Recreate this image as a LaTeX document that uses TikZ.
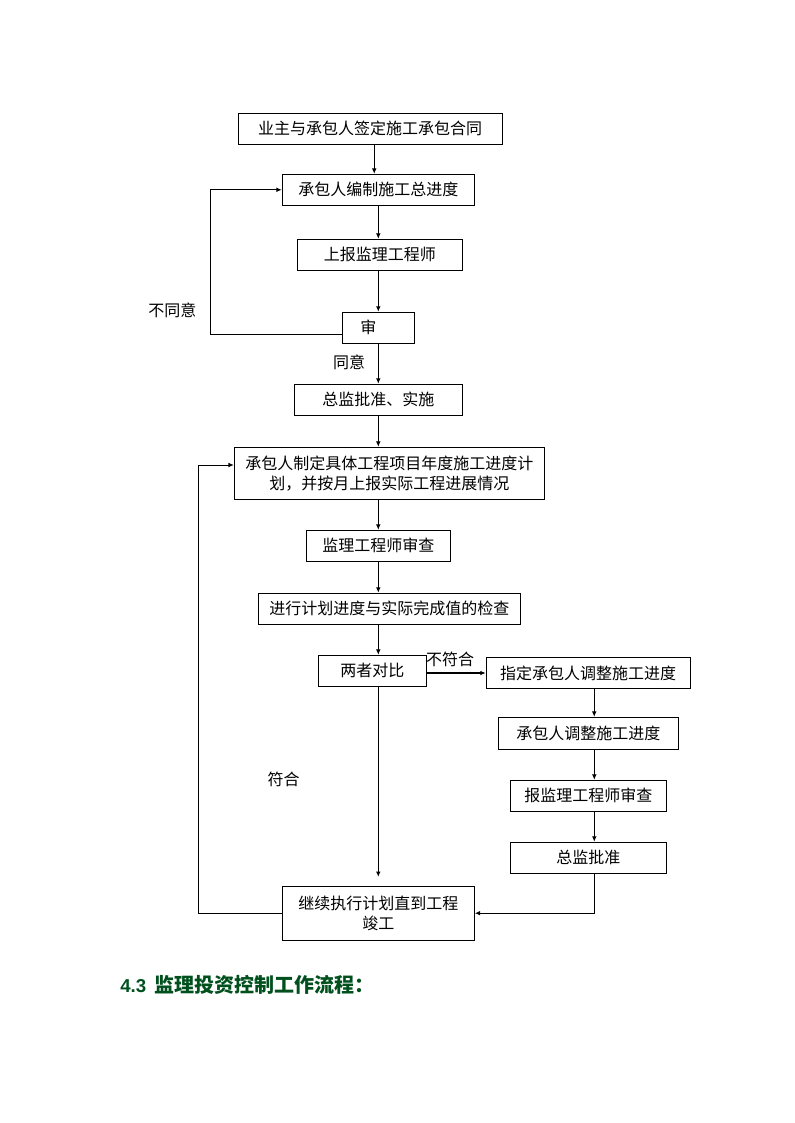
\documentclass[tikz,border=0pt]{standalone}
\usepackage{fontspec}
\setmainfont{Noto Sans CJK SC}
\newfontfamily\arialfont{Liberation Sans}
\usepackage{xcolor}
\usetikzlibrary{arrows.meta}
\definecolor{headgreen}{RGB}{0,80,30}
\tikzset{
	stepbox/.style={draw, line width=0.75pt, minimum height=23.25pt, inner sep=0pt,
			font=\fontsize{12}{15}\selectfont, align=center},
	flow/.style={->, line width=0.75pt},
	note/.style={font=\fontsize{12}{15}\selectfont, inner sep=0pt}
}

\begin{document}
\begin{tikzpicture}[x=0.75pt, y=-0.75pt, >={Latex[length=4pt,width=3.5pt]}]
		\useasboundingbox (0,0) rectangle (794,1123);
		% Draw the boxes
		\node[stepbox, minimum width=198pt] (contract) at (370,128.6) {业主与承包人签定施工承包合同};
		\node[stepbox, minimum width=144pt] (plan) at (378.3,189.8) {承包人编制施工总进度};
		\node[stepbox, minimum width=123.75pt] (report) at (379.8,254.8) {上报监理工程师};
		\node[stepbox, minimum width=54pt] (review) at (378.3,327.7) {审\hspace{15pt}};
		\node[stepbox, minimum width=126pt] (approve) at (378.3,399.7) {总监批准、实施};
		\node[stepbox, minimum width=232.5pt, minimum height=39pt] (yearplan) at (389.3,473.3)
			{承包人制定具体工程项目年度施工进度计\\划，并按月上报实际工程进展情况};
		\node[stepbox, minimum width=108pt] (check) at (378.3,545.8) {监理工程师审查};
		\node[stepbox, minimum width=196.5pt] (inspect) at (389.3,608.7) {进行计划进度与实际完成值的检查};
		\node[stepbox, minimum width=81pt] (compare) at (372.3,670.8) {两者对比};
		\node[stepbox, minimum width=153pt] (assign) at (588.2,673) {指定承包人调整施工进度};
		\node[stepbox, minimum width=135pt, minimum height=24pt] (adjust) at (588.3,733.3) {承包人调整施工进度};
		\node[stepbox, minimum width=117pt] (resubmit) at (588.3,795.8) {报监理工程师审查};
		\node[stepbox, minimum width=117pt] (ratify) at (588.3,857.7) {总监批准};
		\node[stepbox, minimum width=144pt, minimum height=40.3pt] (finish) at (378.3,913.2)
			{继续执行计划直到工程\\竣工};
		% Turning points of the loops
		\coordinate (rturn) at (210.3,334.3);
		\coordinate (lturn) at (198.3,465);
		% Draw the main line
		\draw[flow] ([xshift=3.2pt]contract.south) -- ([xshift=3.2pt]contract.south |- plan.north);
		\draw[flow] (plan.south) -- (plan.south |- report.north);
		\draw[flow] (report.south -| review) -- (review.north);
		\draw[flow] (review.south) -- (review.south |- approve.north);
		\draw[flow] (approve.south) -- (approve.south |- yearplan.north);
		\draw[flow] (yearplan.south -| check) -- (check.north);
		\draw[flow] (check.south) -- (check.south |- inspect.north);
		\draw[flow] (inspect.south -| check) -- (compare.north -| check);
		\draw[flow, shorten >=6.75pt] (compare.south -| check) -- (finish.north);
		% Draw the side line
		\draw[->, line width=1.5pt] (compare.east |- assign) -- (assign.west);
		\draw[flow] ([xshift=4.5pt]assign.south) -- ([xshift=4.5pt]assign.south |- adjust.north);
		\draw[flow] ([xshift=4.5pt]adjust.south) -- ([xshift=4.5pt]adjust.south |- resubmit.north);
		\draw[flow] ([xshift=4.5pt]resubmit.south) -- ([xshift=4.5pt]ratify.north);
		\draw[flow] ([xshift=4.5pt]ratify.south) |- (finish.east);
		% Draw the loops
		\draw[flow] (review.west |- rturn) -- (rturn) |- (plan.west);
		\draw[flow] (finish.west) -| (lturn) -- (lturn -| yearplan.west);
		% Labels
		\node[note] (disagree) at (172.4,310) {不同意};
		\node[note] (agree) at (349,362) {同意};
		\node[note] (nomatch) at (450,659) {不符合};
		\node[note] (match) at (283.7,779) {符合};
		% Heading below
		\node[anchor=west, inner sep=0pt, text=headgreen] (heading) at (120,985)
			{\bfseries{\fontsize{14}{17}\selectfont\arialfont 4.3}\hspace{6pt}{\fontsize{15}{18}\selectfont 监理投资控制工作流程：}};
	\end{tikzpicture}
\end{document}
